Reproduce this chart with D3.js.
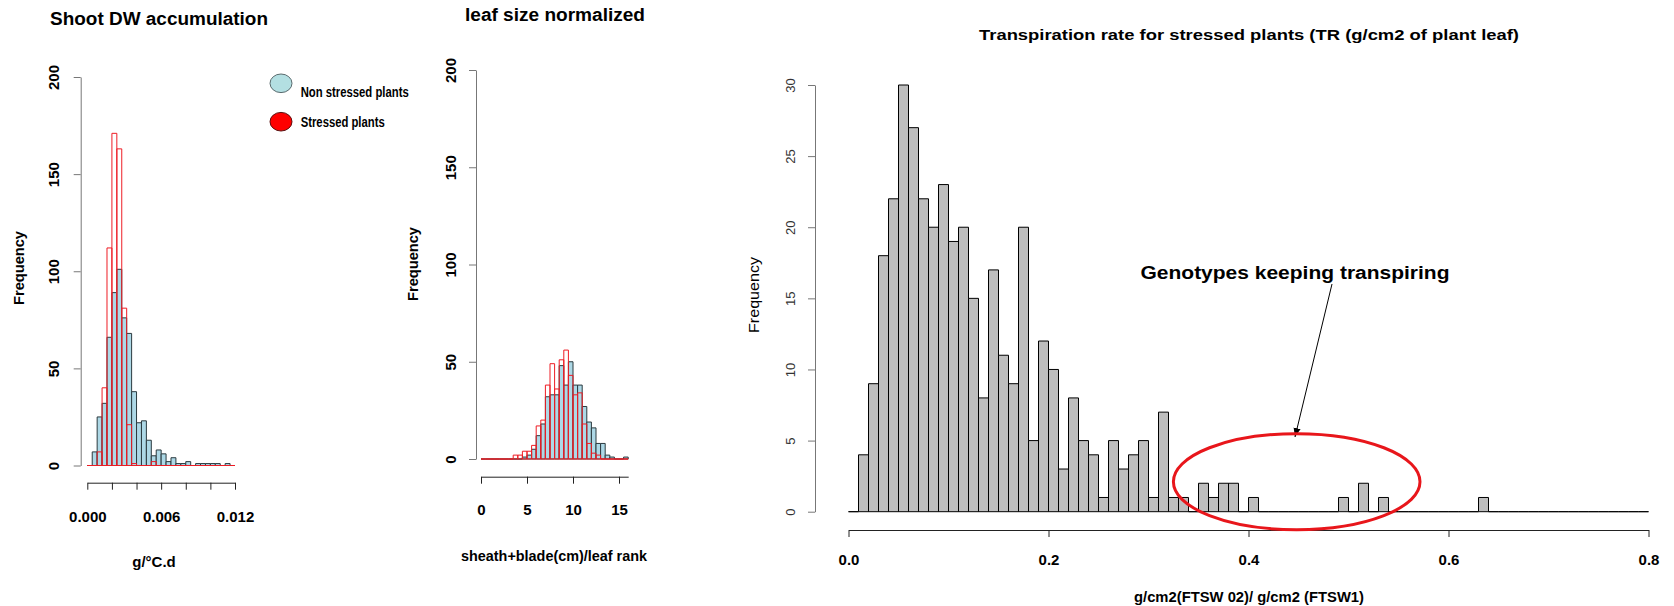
<!DOCTYPE html>
<html>
<head>
<meta charset="utf-8">
<script src="https://cdn.jsdelivr.net/npm/d3@7"></script>
<style>
  body { margin: 0; background: #fff; }
  svg { display: block; font-family: Arial, "Liberation Sans", sans-serif; }
</style>
</head>
<body>
<svg id="canvas" width="1674" height="606"></svg>
<script>
"use strict"

// --- Shoot DW accumulation, bins of 0.0004 g/°C.d starting at 0
const shootStep = 0.0004
const shootNonStressed = [0, 7, 25, 32, 66, 89, 101, 76, 68, 38, 22, 23, 13, 5, 8, 6, 2, 4, 1, 1, 2, 0, 1, 1, 1, 1, 1, 0, 1, 0]
const shootStressed = [0, 0, 7, 40, 112, 171, 163, 81, 21, 1, 0, 0, 0, 2, 0, 0, 0, 0, 0, 0, 0, 0, 0, 0, 0, 0, 0, 0, 0, 0]
const shootXTicks = [0, 0.002, 0.004, 0.006, 0.008, 0.010, 0.012]
const shootXLabels = ["0.000", "", "", "0.006", "", "", "0.012"]
const freqTicks = [0, 50, 100, 150, 200]

// --- leaf size normalized, bins of 0.5 cm starting at 0
const leafStep = 0.5
const leafNonStressed = [0, 0, 0, 0, 0, 0, 0, 0, 0, 1, 2, 5, 12, 18, 32, 33, 33, 48, 38, 50, 38, 38, 27, 19, 16, 8, 8, 2, 1, 0, 0, 1]
const leafStressed = [0, 0, 0, 0, 0, 0, 0, 2, 2, 4, 4, 7, 17, 20, 38, 49, 36, 51, 56, 43, 33, 34, 18, 8, 3, 2, 0, 0, 0, 0, 0, 0]
const leafXTicks = [0, 5, 10, 15]

// --- transpiration rate, bins of 0.01 starting at 0
const trStep = 0.01
const trCounts = [
  0, 4, 9, 18, 22, 30, 27, 22, 20, 23,
  19, 20, 15, 8, 17, 11, 9, 20, 5, 12,
  10, 3, 8, 5, 4, 1, 5, 3, 4, 5,
  1, 7, 1, 1, 0, 2, 1, 2, 2, 0,
  1, 0, 0, 0, 0, 0, 0, 0, 0, 1,
  0, 2, 0, 1, 0, 0, 0, 0, 0, 0,
  0, 0, 0, 1, 0, 0, 0, 0, 0, 0,
  0, 0, 0, 0, 0, 0, 0, 0, 0, 0
]
const trXTicks = [0, 0.2, 0.4, 0.6, 0.8]
const trXLabels = ["0.0", "0.2", "0.4", "0.6", "0.8"]
const trYTicks = [0, 5, 10, 15, 20, 25, 30]

const legendLabels = ["Non stressed plants", "Stressed plants"]
const legendFills = ["#b3dfe2", "#ff0000"]

const svg = d3.select("#canvas")

function bars(g, counts, step, x, y, fill, stroke) {
  g.append("g")
    .selectAll("path")
    .data(counts)
    .enter().append("path")
      .attr("d", (c, i) => {
        const x0 = x(i * step), x1 = x((i + 1) * step)
        return `M${x0},${y(0)}V${y(c)}H${x1}V${y(0)}Z`
      })
      .attr("fill", fill)
      .attr("stroke", stroke)
      .attr("stroke-width", 1)
}

function yAxis(g, y, ticks, xPos, labelOffset, font) {
  const ax = g.append("g")
    .attr("transform", `translate(${xPos},0)`)
    .call(d3.axisLeft(y).tickValues(ticks).tickSize(7).tickSizeOuter(0))
  ax.select(".domain").attr("stroke", "#777")
  ax.selectAll(".tick line").attr("stroke", "#777")
  ax.selectAll(".tick text")
    .attr("x", null).attr("dy", null)
    .attr("transform", `translate(${-labelOffset},0) rotate(-90)`)
    .attr("text-anchor", "middle")
    .attr("dominant-baseline", "central")
    .attr("font-size", font.size)
    .attr("font-weight", font.weight)
    .attr("fill", font.color)
  ax.attr("font-family", null).attr("font-size", null)
}

function xAxis(g, x, ticks, labels, yPos, labelOffset) {
  const ax = g.append("g")
    .attr("transform", `translate(0,${yPos})`)
    .call(d3.axisBottom(x).tickValues(ticks).tickSize(7).tickSizeOuter(0)
      .tickFormat((d, i) => labels[i]))
  ax.select(".domain").attr("stroke", "#222")
  ax.selectAll(".tick line").attr("stroke", "#222")
  ax.selectAll(".tick text")
    .attr("y", labelOffset).attr("dy", null)
    .attr("dominant-baseline", "central")
    .attr("font-size", 15)
    .attr("font-weight", "bold")
    .attr("fill", "#000")
  ax.attr("font-family", null).attr("font-size", null)
}

function label(g, txt, cx, cy, o) {
  const t = g.append("text")
    .attr("text-anchor", "middle")
    .attr("dominant-baseline", "central")
    .attr("font-size", o.size)
    .attr("font-weight", o.weight || "normal")
    .attr("fill", o.color || "#000")
    .attr("transform", `translate(${cx},${cy})` + (o.rotate ? " rotate(-90)" : ""))
    .text(txt)
  if (o.len) t.attr("textLength", o.len).attr("lengthAdjust", "spacingAndGlyphs")
  return t
}

// ---------------- panel 1: Shoot DW accumulation
{
  const g = svg.append("g")
  const x = d3.scaleLinear().domain([0, 0.012]).range([87.3, 235])
  const y = d3.scaleLinear().domain([0, 200]).range([465.5, 77])
  bars(g, shootNonStressed, shootStep, x, y, "#add8e6", "#2b3a3f")
  bars(g, shootStressed, shootStep, x, y, "none", "#ee1c24")
  yAxis(g, y, freqTicks, 80.7, 26.7, { size: 15, weight: "bold", color: "#000" })
  xAxis(g, x, shootXTicks, shootXLabels, 482.7, 34)
  label(g, "Shoot DW accumulation", 159, 19, { size: 18, weight: "bold", len: 218 })
  label(g, "Frequency", 18.5, 268, { size: 15, weight: "bold", rotate: true, len: 74 })
  label(g, "g/°C.d", 154, 561, { size: 15, weight: "bold" })

  const lg = g.append("g")
  lg.selectAll("ellipse")
    .data(legendLabels)
    .enter().append("ellipse")
      .attr("cx", 281)
      .attr("cy", (d, i) => 83.3 + i * 38.4)
      .attr("rx", 11)
      .attr("ry", 9.3)
      .attr("fill", (d, i) => legendFills[i])
      .attr("stroke", (d, i) => i === 0 ? "#5a6b6e" : "#5a1010")
  lg.selectAll("text")
    .data(legendLabels)
    .enter().append("text")
      .attr("x", 300.7)
      .attr("y", (d, i) => i === 0 ? 92 : 122.3)
      .attr("dominant-baseline", "central")
      .attr("font-size", 14)
      .attr("font-weight", "bold")
      .attr("textLength", (d, i) => i === 0 ? 108 : 84)
      .attr("lengthAdjust", "spacingAndGlyphs")
      .text(d => d)
}

// ---------------- panel 2: leaf size normalized
{
  const g = svg.append("g")
  const x = d3.scaleLinear().domain([0, 16]).range([481, 628.2])
  const y = d3.scaleLinear().domain([0, 200]).range([459, 70])
  bars(g, leafNonStressed, leafStep, x, y, "#add8e6", "#2b3a3f")
  bars(g, leafStressed, leafStep, x, y, "none", "#ee1c24")
  yAxis(g, y, freqTicks, 476, 26, { size: 15, weight: "bold", color: "#000" })
  xAxis(g, x, leafXTicks, leafXTicks.map(String), 476.7, 33)
  label(g, "leaf size normalized", 555, 15, { size: 18, weight: "bold", len: 180 })
  label(g, "Frequency", 412, 264, { size: 15, weight: "bold", rotate: true, len: 74 })
  label(g, "sheath+blade(cm)/leaf rank", 554, 555, { size: 15, weight: "bold", len: 186 })
}

// ---------------- panel 3: transpiration rate
{
  const g = svg.append("g")
  const x = d3.scaleLinear().domain([0, 0.8]).range([848.5, 1648.5])
  const y = d3.scaleLinear().domain([0, 30]).range([511.7, 85])
  bars(g, trCounts, trStep, x, y, "#bebebe", "#000")
  yAxis(g, y, trYTicks, 815, 25, { size: 13, weight: "normal", color: "#333" })
  xAxis(g, x, trXTicks, trXLabels, 530, 29)
  label(g, "Transpiration rate for stressed plants (TR (g/cm2 of plant leaf)", 1249, 34,
    { size: 15, weight: "bold", len: 540 })
  label(g, "Frequency", 753, 295, { size: 15, rotate: true, len: 76 })
  label(g, "g/cm2(FTSW 02)/ g/cm2 (FTSW1)", 1249, 597, { size: 14, weight: "bold", len: 230 })

  // annotation
  label(g, "Genotypes keeping transpiring", 1295, 273, { size: 18, weight: "bold", len: 309 })
  svg.append("defs").append("marker")
    .attr("id", "arrow")
    .attr("viewBox", "0 0 10 10")
    .attr("refX", 10).attr("refY", 5)
    .attr("markerWidth", 9).attr("markerHeight", 9)
    .attr("markerUnits", "userSpaceOnUse")
    .attr("orient", "auto")
    .append("path").attr("d", "M0,1L10,5L0,9Z").attr("fill", "#000")
  g.append("line")
    .attr("x1", 1332).attr("y1", 284)
    .attr("x2", 1295).attr("y2", 437)
    .attr("stroke", "#000").attr("stroke-width", 1)
    .attr("marker-end", "url(#arrow)")
  g.append("ellipse")
    .attr("cx", 1296.7).attr("cy", 481.7)
    .attr("rx", 123.3).attr("ry", 48)
    .attr("fill", "none")
    .attr("stroke", "#e8161b")
    .attr("stroke-width", 3)
}
</script>
</body>
</html>
